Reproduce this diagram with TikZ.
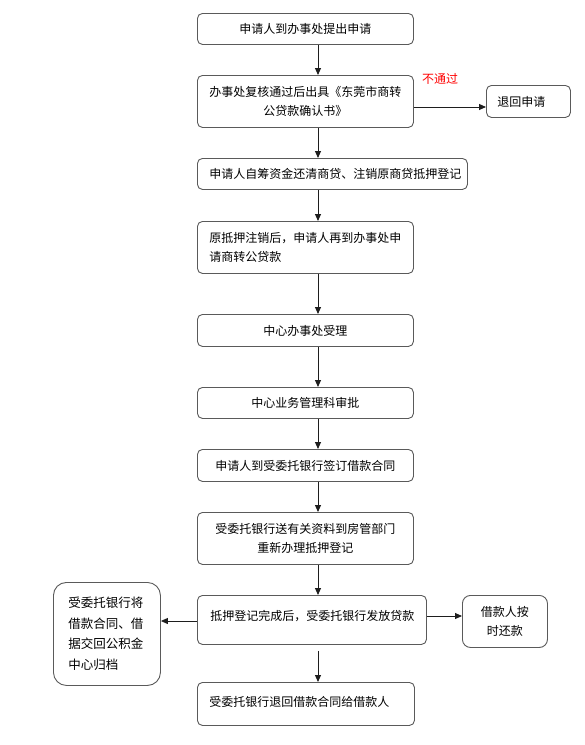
\documentclass[tikz,border=0pt]{standalone}
\usepackage{fontspec}
\newfontfamily\cjk{Noto Sans CJK SC}
\usetikzlibrary{arrows.meta}
\definecolor{boxline}{HTML}{5A5A5A}
\definecolor{arrline}{HTML}{1E1E1E}
\begin{document}
\begin{tikzpicture}[x=1pt,y=-1pt,
  box/.style={draw=boxline, line width=0.9pt, rounded corners=5pt, anchor=north west,
    inner sep=0pt, align=center, font=\cjk\fontsize{12}{19.5}\selectfont},
  lbox/.style={box, align=left},
  arr/.style={draw=arrline, line width=0.9pt, -{Triangle[length=7pt,width=6pt]}},
  note/.style={font=\cjk\fontsize{12}{14}\selectfont, text=red, inner sep=0pt}]
\useasboundingbox (0,0) rectangle (585,745);
\fill[white] (0,0) rectangle (585,745);
\coordinate (X) at (318,0);
\coordinate (Y1) at (0,107);
\coordinate (Y2) at (0,616);
\coordinate (Y3) at (0,621);

\node[box, minimum width=216pt, minimum height=31pt] (b1) at (197,13) {申请人到办事处提出申请};
\node[box, minimum width=216pt, minimum height=52pt] (b2) at (197,75) {办事处复核通过后出具《东莞市商转\\公贷款确认书》};
\node[lbox, minimum width=84pt, minimum height=32pt, inner xsep=11pt, text width=62pt] (r) at (486,85) {退回申请};
\node[note] (n) at (440,79) {不通过};
\node[lbox, minimum width=270pt, minimum height=31pt, inner xsep=12pt, text width=246pt] (b3) at (197,158) {申请人自筹资金还清商贷、注销原商贷抵押登记};
\node[lbox, minimum width=216pt, minimum height=52pt, inner xsep=12pt, text width=192pt] (b4) at (197,221) {原抵押注销后，申请人再到办事处申\\请商转公贷款};
\node[box, minimum width=216pt, minimum height=32pt] (b5) at (197,314) {中心办事处受理};
\node[box, minimum width=216pt, minimum height=31pt] (b6) at (197,387) {中心业务管理科审批};
\node[box, minimum width=216pt, minimum height=32pt] (b7) at (197,449) {申请人到受委托银行签订借款合同};
\node[box, minimum width=216pt, minimum height=52pt] (b8) at (197,512) {受委托银行送有关资料到房管部门\\重新办理抵押登记};
\node[lbox, minimum width=229pt, minimum height=49pt, inner xsep=13pt, text width=203pt, text depth=9pt] (b9) at (197,595) {抵押登记完成后，受委托银行发放贷款};
\node[box, rounded corners=13pt, align=left, minimum width=107pt, minimum height=103pt, inner xsep=15pt, text width=77pt,
  font=\cjk\fontsize{12.5}{20.5}\selectfont] (l) at (53,582) {受委托银行将\\借款合同、借\\据交回公积金\\中心归档};
\node[box, rounded corners=8pt, minimum width=85pt, minimum height=52pt] (rr) at (462,595) {借款人按\\时还款};
\node[lbox, minimum width=217pt, minimum height=43pt, inner xsep=12pt, text width=193pt, text depth=5pt] (b10) at (197,682) {受委托银行退回借款合同给借款人};

\draw[arr] (b1.south -| X) -- (b2.north -| X);
\draw[arr] (b2.south -| X) -- (b3.north -| X);
\draw[arr] (b3.south -| X) -- (b4.north -| X);
\draw[arr] (b4.south -| X) -- (b5.north -| X);
\draw[arr] (b5.south -| X) -- (b6.north -| X);
\draw[arr] (b6.south -| X) -- (b7.north -| X);
\draw[arr] (b7.south -| X) -- (b8.north -| X);
\draw[arr] (b8.south -| X) -- (b9.north -| X);
\draw[arr, shorten <=6pt] (b9.south -| X) -- (b10.north -| X);
\draw[arr] (b2.east |- Y1) -- (r.west |- Y1);
\draw[arr] (b9.east |- Y2) -- (rr.west |- Y2);
\draw[arr] (b9.west |- Y3) -- (l.east |- Y3);
\end{tikzpicture}
\end{document}
